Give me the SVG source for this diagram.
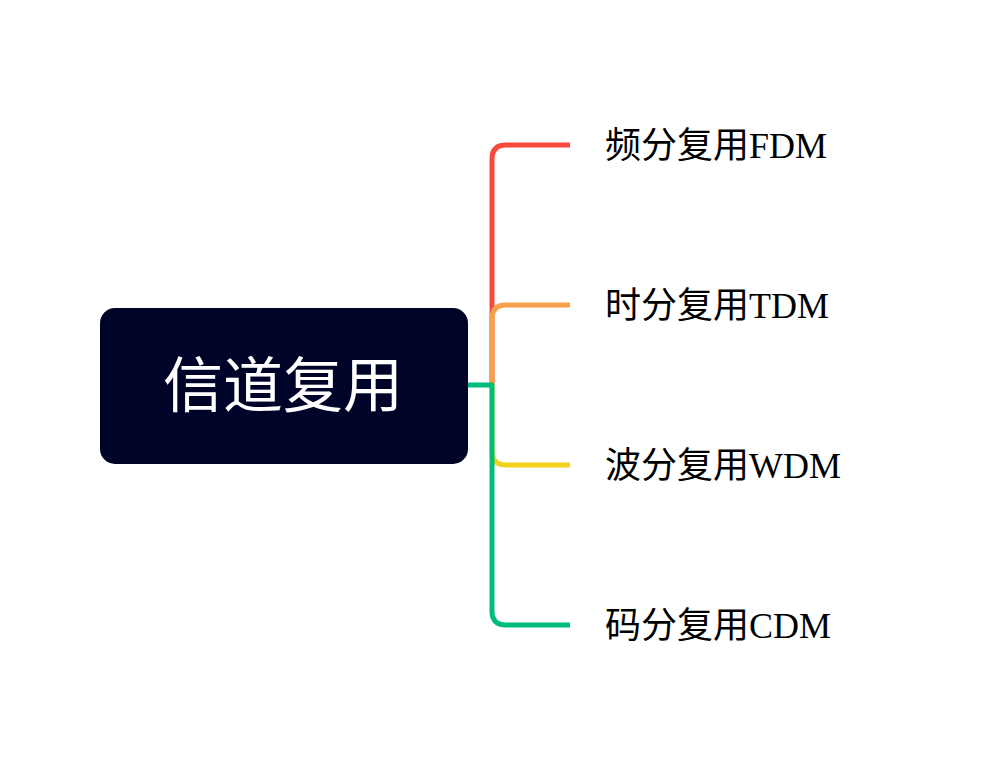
<svg xmlns="http://www.w3.org/2000/svg" width="982" height="772" viewBox="0 0 982 772">
<style>
.conn{fill:none;stroke-width:5;stroke-linecap:butt;stroke-linejoin:round}
.lbl{font-family:"Liberation Serif","Noto Sans CJK SC",serif;font-size:36px;fill:#000}
.root{font-family:"Noto Sans CJK SC","Noto Sans",sans-serif;font-size:60px;fill:#fff}
</style>
<rect width="982" height="772" fill="#fff"/>
<g id="connectors">
<path class="conn" stroke="#F9483C" d="M492,385 V159 Q492,145 506,145 H570"/>
<path class="conn" stroke="#F5A04B" d="M492,385 V319 Q492,305 506,305 H570"/>
<path class="conn" stroke="#F3D21E" d="M492,385 V451 Q492,465 506,465 H570"/>
<path class="conn" stroke="#00BE7A" d="M468,385 H492 V611 Q492,625 506,625 H570"/>
</g>
<g id="node-root">
<rect x="100" y="308" width="368" height="156" rx="15" fill="#000429"/>
<text class="root" x="283" y="407" text-anchor="middle">信道复用</text>
</g>
<g id="node-fdm"><text class="lbl" x="605" y="158">频分复用FDM</text></g>
<g id="node-tdm"><text class="lbl" x="605" y="318">时分复用TDM</text></g>
<g id="node-wdm"><text class="lbl" x="605" y="478">波分复用WDM</text></g>
<g id="node-cdm"><text class="lbl" x="605" y="638">码分复用CDM</text></g>
</svg>
